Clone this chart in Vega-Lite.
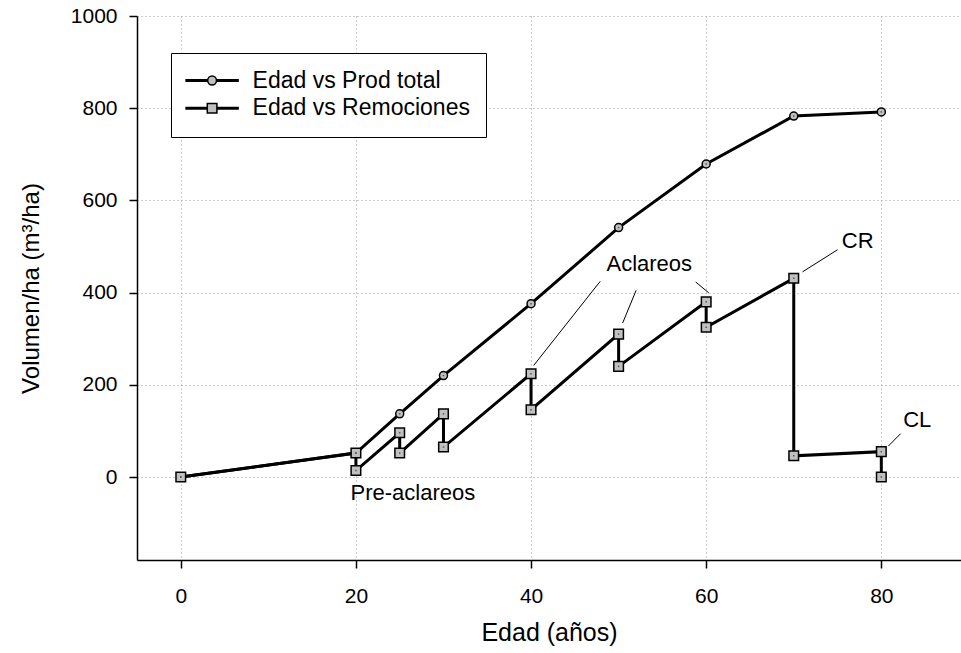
{
  "$schema": "https://vega.github.io/schema/vega-lite/v6.json",
  "width": 824,
  "height": 544,
  "autosize": {"type": "none"},
  "padding": {"left": 137, "top": 16, "right": 0, "bottom": 93},
  "background": "white",
  "config": {
    "view": {"stroke": null},
    "font": "Liberation Sans",
    "axis": {
      "labelFont": "Liberation Sans",
      "labelFontSize": 21,
      "labelColor": "black",
      "titleFont": "Liberation Sans",
      "titleFontWeight": "normal",
      "titleColor": "black",
      "domainColor": "black",
      "domainWidth": 1.5,
      "tickColor": "black",
      "tickWidth": 1.5,
      "tickSize": 8,
      "gridColor": "#9a9a9a",
      "gridDash": [1, 3],
      "gridWidth": 1,
      "format": "d"
    },
    "axisX": {"labelPadding": 17, "titleFontSize": 25, "titlePadding": 14},
    "axisY": {"labelPadding": 12, "titleFontSize": 24, "titlePadding": 27}
  },
  "datasets": {
    "main": [
      {"series": "Edad vs Prod total", "age": 0, "vol": 0, "ord": 0},
      {"series": "Edad vs Prod total", "age": 20, "vol": 52, "ord": 1},
      {"series": "Edad vs Prod total", "age": 25, "vol": 137, "ord": 2},
      {"series": "Edad vs Prod total", "age": 30, "vol": 220, "ord": 3},
      {"series": "Edad vs Prod total", "age": 40, "vol": 376, "ord": 4},
      {"series": "Edad vs Prod total", "age": 50, "vol": 541, "ord": 5},
      {"series": "Edad vs Prod total", "age": 60, "vol": 679, "ord": 6},
      {"series": "Edad vs Prod total", "age": 70, "vol": 783, "ord": 7},
      {"series": "Edad vs Prod total", "age": 80, "vol": 792, "ord": 8},
      {"series": "Edad vs Remociones", "age": 0, "vol": 0, "ord": 0},
      {"series": "Edad vs Remociones", "age": 20, "vol": 52, "ord": 1},
      {"series": "Edad vs Remociones", "age": 20, "vol": 14, "ord": 2},
      {"series": "Edad vs Remociones", "age": 25, "vol": 96, "ord": 3},
      {"series": "Edad vs Remociones", "age": 25, "vol": 52, "ord": 4},
      {"series": "Edad vs Remociones", "age": 30, "vol": 137, "ord": 5},
      {"series": "Edad vs Remociones", "age": 30, "vol": 65, "ord": 6},
      {"series": "Edad vs Remociones", "age": 40, "vol": 224, "ord": 7},
      {"series": "Edad vs Remociones", "age": 40, "vol": 146, "ord": 8},
      {"series": "Edad vs Remociones", "age": 50, "vol": 310, "ord": 9},
      {"series": "Edad vs Remociones", "age": 50, "vol": 240, "ord": 10},
      {"series": "Edad vs Remociones", "age": 60, "vol": 380, "ord": 11},
      {"series": "Edad vs Remociones", "age": 60, "vol": 325, "ord": 12},
      {"series": "Edad vs Remociones", "age": 70, "vol": 431, "ord": 13},
      {"series": "Edad vs Remociones", "age": 70, "vol": 46, "ord": 14},
      {"series": "Edad vs Remociones", "age": 80, "vol": 55, "ord": 15},
      {"series": "Edad vs Remociones", "age": 80, "vol": 0, "ord": 16}
    ],
    "labels": [
      {"label": "Pre-aclareos", "age": 26.5, "vol": -50},
      {"label": "Aclareos", "age": 53.5, "vol": 446},
      {"label": "CR", "age": 77.3, "vol": 497},
      {"label": "CL", "age": 84.1, "vol": 109}
    ],
    "leaders": [
      {"age": 47.9, "vol": 424.5, "age2": 40.3, "vol2": 242},
      {"age": 52.0, "vol": 405, "age2": 50.46, "vol2": 334},
      {"age": 58.8, "vol": 423, "age2": 60.3, "vol2": 399.4},
      {"age": 75.0, "vol": 493, "age2": 71.0, "vol2": 445},
      {"age": 82.2, "vol": 94, "age2": 80.8, "vol2": 67}
    ]
  },
  "layer": [
    {
      "data": {"name": "main"},
      "mark": {"type": "line", "color": "black", "strokeWidth": 3, "strokeJoin": "miter"},
      "encoding": {
        "x": {
          "field": "age", "type": "quantitative", "title": "Edad (años)",
          "scale": {"domain": [-5, 89.1], "nice": false, "zero": false},
          "axis": {"values": [0, 20, 40, 60, 80], "grid": true}
        },
        "y": {
          "field": "vol", "type": "quantitative", "title": "Volumen/ha (m³/ha)",
          "scale": {"domain": [-180, 1000], "nice": false, "zero": false},
          "axis": {"values": [0, 200, 400, 600, 800, 1000], "grid": true}
        },
        "detail": {"field": "series"},
        "order": {"field": "ord"}
      }
    },
    {
      "mark": {"type": "rule", "color": "black", "strokeWidth": 1.5},
      "encoding": {
        "y": {"datum": 1000, "type": "quantitative", "title": "Volumen/ha (m³/ha)"}
      }
    },
    {
      "data": {"name": "leaders"},
      "mark": {"type": "rule", "color": "black", "strokeWidth": 1},
      "encoding": {
        "x": {"field": "age", "type": "quantitative", "title": "Edad (años)"},
        "y": {"field": "vol", "type": "quantitative", "title": "Volumen/ha (m³/ha)"},
        "x2": {"field": "age2"},
        "y2": {"field": "vol2"}
      }
    },
    {
      "data": {"name": "main"},
      "transform": [{"filter": "datum.series === 'Edad vs Prod total'"}],
      "mark": {"type": "point", "shape": "circle", "filled": true, "fill": "#c0c0c0", "stroke": "black", "strokeWidth": 1.5, "opacity": 1, "size": 64},
      "encoding": {
        "x": {"field": "age", "type": "quantitative", "title": "Edad (años)"},
        "y": {"field": "vol", "type": "quantitative", "title": "Volumen/ha (m³/ha)"}
      }
    },
    {
      "data": {"name": "main"},
      "transform": [{"filter": "datum.series === 'Edad vs Remociones'"}],
      "mark": {"type": "point", "shape": "square", "filled": true, "fill": "#c0c0c0", "stroke": "black", "strokeWidth": 1.5, "opacity": 1, "size": 92},
      "encoding": {
        "x": {"field": "age", "type": "quantitative", "title": "Edad (años)"},
        "y": {"field": "vol", "type": "quantitative", "title": "Volumen/ha (m³/ha)"}
      }
    },
    {
      "data": {"name": "main"},
      "mark": {"type": "point", "filled": true, "fill": "#c0c0c0", "stroke": "black", "strokeWidth": 1.5, "opacity": 0, "size": 100},
      "encoding": {
        "x": {"field": "age", "type": "quantitative", "title": "Edad (años)"},
        "y": {"field": "vol", "type": "quantitative", "title": "Volumen/ha (m³/ha)"},
        "shape": {
          "field": "series", "type": "nominal",
          "scale": {
            "domain": ["Edad vs Prod total", "Edad vs Remociones"],
            "range": [
              "M-5.2,-0.15H-0.88V0.15H-5.2Z M0.88,-0.15H5.2V0.15H0.88Z M0.88,0A0.88,0.88,0,1,1,-0.88,0A0.88,0.88,0,1,1,0.88,0Z",
              "M-5.2,-0.15H-0.96V0.15H-5.2Z M0.96,-0.15H5.2V0.15H0.96Z M-0.96,-0.96H0.96V0.96H-0.96Z"
            ]
          },
          "legend": {
            "title": null,
            "orient": "none",
            "legendX": 34,
            "legendY": 37,
            "padding": 16,
            "strokeColor": "black",
            "fillColor": "white",
            "labelFont": "Liberation Sans",
            "labelFontSize": 23,
            "labelColor": "black",
            "labelLimit": 0,
            "symbolSize": 100,
            "symbolOffset": 13.6,
            "labelOffset": 29,
            "rowPadding": 3.7,
            "symbolOpacity": 1,
            "encode": {
              "symbols": {
                "fill": {"value": "#c0c0c0"},
                "stroke": {"value": "black"},
                "strokeWidth": {"value": 1.5},
                "strokeOpacity": {"value": 1},
                "fillOpacity": {"value": 1},
                "opacity": {"value": 1}
              }
            }
          }
        }
      }
    },
    {
      "data": {"name": "main"},
      "mark": {"type": "point", "shape": "square", "filled": true, "color": "#505050", "size": 2, "opacity": 1},
      "encoding": {
        "x": {"field": "age", "type": "quantitative", "title": "Edad (años)"},
        "y": {"field": "vol", "type": "quantitative", "title": "Volumen/ha (m³/ha)"}
      }
    },
    {
      "data": {"name": "labels"},
      "mark": {"type": "text", "font": "Liberation Sans", "fontSize": 22, "color": "black", "align": "center", "baseline": "alphabetic"},
      "encoding": {
        "x": {"field": "age", "type": "quantitative", "title": "Edad (años)"},
        "y": {"field": "vol", "type": "quantitative", "title": "Volumen/ha (m³/ha)"},
        "text": {"field": "label"}
      }
    }
  ]
}
